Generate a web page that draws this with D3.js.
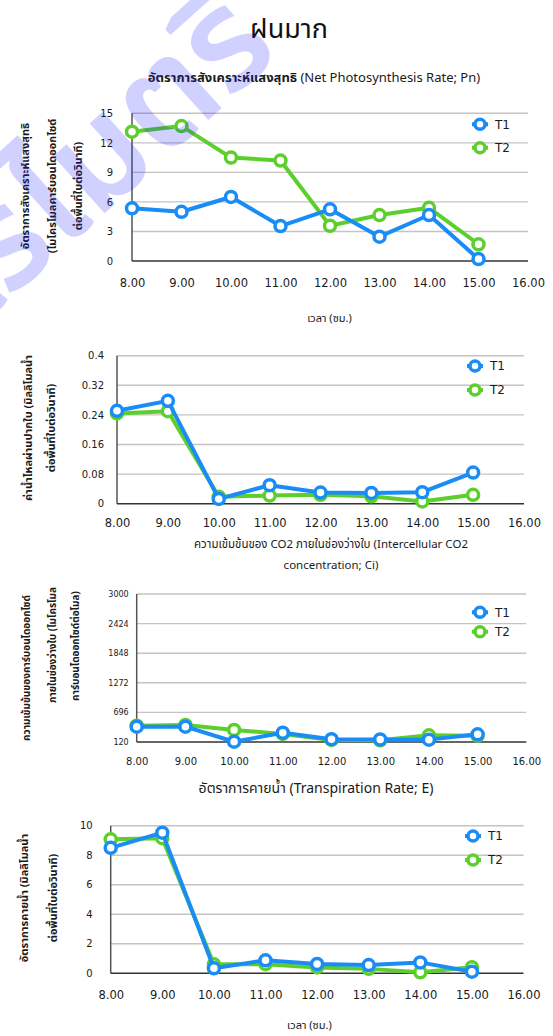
<!DOCTYPE html>
<html>
<head>
<meta charset="utf-8">
<script src="https://cdn.jsdelivr.net/npm/d3@7"></script>
<style>
  html, body { margin: 0; padding: 0; background: #fff; }
  svg { display: block; }
  text { font-family: Tahoma, "Noto Sans Thai", "Leelawadee UI", Garuda, Loma, "Noto Sans", "DejaVu Sans", sans-serif; fill: #1a1a1a; }
</style>
</head>
<body>
<script>
// Measurement times (hour of day) and axis ticks
const hours = [8, 9, 10, 11, 12, 13, 14, 15];
const xTicks = [8, 9, 10, 11, 12, 13, 14, 15, 16];
const seriesNames = ["T1", "T2"];

// Net photosynthesis rate (Pn)
const pnT1 = [5.35, 5.0, 6.5, 3.55, 5.25, 2.47, 4.67, 0.2];
const pnT2 = [13.13, 13.7, 10.5, 10.2, 3.58, 4.67, 5.4, 1.7];
const pnTicks = [0, 3, 6, 9, 12, 15];

// Stomatal conductance
const gsT1 = [0.251, 0.278, 0.013, 0.05, 0.03, 0.029, 0.031, 0.084];
const gsT2 = [0.244, 0.25, 0.019, 0.022, 0.024, 0.02, 0.006, 0.024];
const gsTicks = [0, 0.08, 0.16, 0.24, 0.32, 0.4];

// Intercellular CO2 concentration (Ci)
const ciT1 = [418, 418, 125, 301, 175, 170, 166, 270];
const ciT2 = [437, 451, 354, 276, 159, 153, 251, 244];
const ciTicks = [120, 696, 1272, 1848, 2424, 3000];

// Transpiration rate (E)
const eT1 = [8.5, 9.53, 0.34, 0.88, 0.63, 0.56, 0.74, 0.11];
const eT2 = [9.08, 9.15, 0.61, 0.62, 0.4, 0.3, 0.07, 0.41];
const eTicks = [0, 2, 4, 6, 8, 10];

const W = 553, H = 1036;
const COLORS = { T1: "#1a8cf5", T2: "#5ccf2c" };

const svg = d3.select("body").append("svg")
  .attr("width", W).attr("height", H);
svg.append("rect").attr("width", W).attr("height", H).attr("fill", "#fff");

// Page heading
svg.append("text")
  .attr("x", 289).attr("y", 38)
  .attr("text-anchor", "middle")
  .style("font-size", "27px")
  .style("fill", "#111")
  .text("ฝนมาก");

const panels = [
  {
    box: { x0: 132, x1: 528, y0: 113.3, y1: 261 },
    yDomain: [0, 15], yTicks: pnTicks, yFmt: d => String(d),
    t1: pnT1, t2: pnT2,
    yTickFont: 10, xTickFont: 11.5, yTickGap: 19, xTickY: 283,
    legend: { x: 480, y1: 124.3, y2: 147.7 },
    yTitle: { lines: [["อัตราการสังเคราะห์แสงสุทธิ", 25], ["(ไมโครโมลคาร์บอนไดออกไซด์", 52], ["ต่อพื้นที่ใบต่อวินาที)", 78]], cy: 186, size: 11 }
  },
  {
    box: { x0: 117, x1: 524, y0: 355.7, y1: 503.7 },
    yDomain: [0, 0.4], yTicks: gsTicks, yFmt: d => String(d),
    t1: gsT1, t2: gsT2,
    yTickFont: 10, xTickFont: 11.5, yTickGap: 13, xTickY: 523,
    legend: { x: 475, y1: 366, y2: 390 },
    yTitle: { lines: [["ค่าน้ำไหลผ่านปากใบ (มิลลิโมลน้ำ", 28.5], ["ต่อพื้นที่ใบต่อวินาที)", 51.5]], cy: 428, size: 11 }
  },
  {
    box: { x0: 136.7, x1: 526.3, y0: 594, y1: 742 },
    yDomain: [120, 3000], yTicks: ciTicks, yFmt: d => String(d),
    t1: ciT1, t2: ciT2,
    yTickFont: 8, xTickFont: 10, yTickGap: 8, xTickY: 761,
    legend: { x: 480, y1: 612.3, y2: 631.7 },
    yTitle: { lines: [["ความเข้มข้นของคาร์บอนไดออกไซด์", 26.3, 668], ["ภายในช่องว่างใบ (ไมโครโมล", 52.7, 645], ["คาร์บอนไดออกไซด์ต่อโมล)", 75.7, 646]], cy: 660, size: 10 }
  },
  {
    box: { x0: 110.7, x1: 523.5, y0: 825.7, y1: 973.3 },
    yDomain: [0, 10], yTicks: eTicks, yFmt: d => String(d),
    t1: eT1, t2: eT2,
    yTickFont: 10, xTickFont: 11.5, yTickGap: 18, xTickY: 995,
    legend: { x: 473, y1: 836, y2: 860 },
    yTitle: { lines: [["อัตราการคายน้ำ (มิลลิโมลน้ำ", 24.5], ["ต่อพื้นที่ใบต่อวินาที)", 52.7]], cy: 898, size: 11 }
  }
];

panels.forEach(p => {
  const g = svg.append("g");
  const x = d3.scaleLinear().domain([8, 16]).range([p.box.x0, p.box.x1]);
  const y = d3.scaleLinear().domain(p.yDomain).range([p.box.y1, p.box.y0]);

  // horizontal gridlines
  g.append("g").selectAll("line")
    .data(p.yTicks.slice(1))
    .join("line")
    .attr("x1", p.box.x0).attr("x2", p.box.x1)
    .attr("y1", d => y(d)).attr("y2", d => y(d))
    .attr("stroke", "#c4c4c4").attr("stroke-width", 1.4);

  // y axis with labels only
  const yAxis = d3.axisLeft(y).tickValues(p.yTicks).tickFormat(p.yFmt).tickSize(0).tickPadding(p.yTickGap);
  const ya = g.append("g").attr("transform", `translate(${p.box.x0},0)`).call(yAxis);
  ya.select(".domain").remove();
  ya.selectAll("text").style("font-size", p.yTickFont + "px").style("font-family", "'DejaVu Sans', Verdana, sans-serif").attr("fill", "#222");

  // x axis labels
  const xAxis = d3.axisBottom(x).tickValues(xTicks).tickFormat(d3.format(".2f")).tickSize(0).tickPadding(0);
  const xa = g.append("g").attr("transform", `translate(0,${p.xTickY})`).call(xAxis);
  xa.select(".domain").remove();
  xa.selectAll("text").attr("dy", "0.35em").attr("y", 0)
    .style("font-size", p.xTickFont + "px").style("font-family", "'DejaVu Sans', Verdana, sans-serif").attr("fill", "#222");

  // axis lines
  g.append("line").attr("x1", p.box.x0).attr("x2", p.box.x0).attr("y1", p.box.y0).attr("y2", p.box.y1)
    .attr("stroke", "#555").attr("stroke-width", 1.5);
  g.append("line").attr("x1", p.box.x0).attr("x2", p.box.x1).attr("y1", p.box.y1).attr("y2", p.box.y1)
    .attr("stroke", "#333").attr("stroke-width", 1.5);

  // series: T2 first so T1 sits on top
  const series = [
    { name: "T2", values: p.t2 },
    { name: "T1", values: p.t1 }
  ];
  const line = d3.line().x((d, i) => x(hours[i])).y(d => y(d));
  series.forEach(s => {
    g.append("path").datum(s.values)
      .attr("d", line)
      .attr("fill", "none")
      .attr("stroke", COLORS[s.name])
      .attr("stroke-width", 4)
      .attr("stroke-linejoin", "round");
    g.append("g").selectAll("circle")
      .data(s.values)
      .join("circle")
      .attr("cx", (d, i) => x(hours[i]))
      .attr("cy", d => y(d))
      .attr("r", 5.5)
      .attr("fill", "#fff")
      .attr("stroke", COLORS[s.name])
      .attr("stroke-width", 3.5);
  });

  // legend
  const lg = g.append("g");
  seriesNames.forEach((name, i) => {
    const ly = i === 0 ? p.legend.y1 : p.legend.y2;
    lg.append("line").attr("x1", p.legend.x - 8).attr("x2", p.legend.x + 8)
      .attr("y1", ly).attr("y2", ly).attr("stroke", COLORS[name]).attr("stroke-width", 4);
    lg.append("circle").attr("cx", p.legend.x).attr("cy", ly).attr("r", 5)
      .attr("fill", "#fff").attr("stroke", COLORS[name]).attr("stroke-width", 3.5);
    lg.append("text").attr("x", p.legend.x + 15).attr("y", ly).attr("dy", "0.35em")
      .style("font-size", "12px").style("font-family", "'DejaVu Sans', Verdana, sans-serif")
      .text(name);
  });

  // rotated y-axis title lines
  p.yTitle.lines.forEach(([txt, lx, cy]) => {
    const cyy = cy === undefined ? p.yTitle.cy : cy;
    g.append("text")
      .attr("transform", `translate(${lx},${cyy}) rotate(-90)`)
      .attr("text-anchor", "middle")
      .attr("dy", "0.35em")
      .style("font-size", p.yTitle.size + "px")
      .style("font-weight", "bold")
      .text(txt);
  });
});

// Chart titles and axis captions
const subTitle = svg.append("text").attr("x", 314).attr("y", 82).attr("text-anchor", "middle").style("font-size", "13px");
subTitle.append("tspan").style("font-weight", "bold").text("อัตราการสังเคราะห์แสงสุทธิ ");
subTitle.append("tspan").text("(Net Photosynthesis Rate; Pn)");

const captions = [
  ["เวลา (ซม.)", 329.5, 322, 11],
  ["ความเข้มข้นของ CO2 ภายในช่องว่างใบ  (Intercellular CO2", 331, 548, 11.5],
  ["concentration; Ci)", 331, 569, 11.5],
  ["อัตราการคายน้ำ (Transpiration Rate; E)", 316, 793, 14],
  ["เวลา (ซม.)", 309.4, 1029, 11]
];
captions.forEach(([txt, cx, by, size]) => {
  svg.append("text").attr("x", cx).attr("y", by).attr("text-anchor", "middle")
    .style("font-size", size + "px").text(txt);
});

// Translucent watermark lettering across the top-left corner
svg.append("text")
  .attr("transform", "translate(-25,330) rotate(-42)")
  .style("font-size", "140px")
  .style("font-weight", "600")
  .style("fill", "#1a1aff")
  .style("fill-opacity", 0.2)
  .text("ไร่ไมตรี");
</script>
</body>
</html>
